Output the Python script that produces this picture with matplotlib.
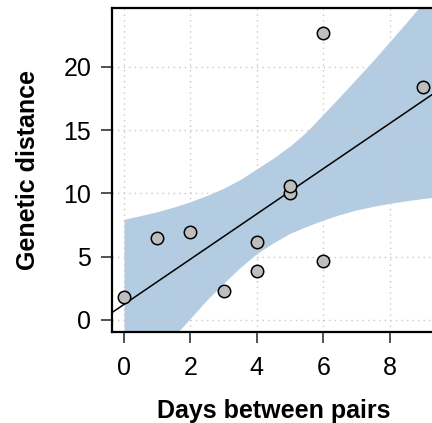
import numpy as np
import matplotlib
matplotlib.use("Agg")
import matplotlib.pyplot as plt

plt.rcParams["font.family"] = ["Liberation Sans", "DejaVu Sans"]

# Observed pairs
days = [0, 1, 2, 3, 4, 4, 5, 5, 6, 6, 9]
genetic_dist = [1.84, 6.5, 6.93, 2.27, 6.17, 3.85, 10.01, 10.59, 22.69, 4.69, 18.44]

# Confidence band edges along the day axis
band_x = [0, 0.5, 1, 1.5, 2, 2.5, 3, 3.5, 4, 4.5, 5, 5.5, 6, 6.5, 7, 7.5, 8, 8.5, 9, 9.5]
band_lo = [-5.8, -4.3, -2.8, -1.3, 0.13, 1.6, 2.9, 4.15, 5.25, 6.1, 6.85, 7.4,
           7.9, 8.33, 8.7, 8.98, 9.22, 9.42, 9.6, 9.75]
band_hi = [7.96, 8.25, 8.56, 8.93, 9.35, 9.85, 10.41, 11.1, 11.95, 12.8, 13.75, 14.88,
           16.26, 17.65, 19.07, 20.5, 22.0, 23.5, 25.05, 26.6]

x_ticks = [0, 2, 4, 6, 8]
y_ticks = [0, 5, 10, 15, 20]

fig = plt.figure(figsize=(4.32, 4.23), dpi=100)
ax = fig.add_axes([0.2593, 0.2151, 0.7472, 0.7660])

xlim = (-0.36, 9.36)
ylim = (-0.95, 24.66)

ax.fill_between(band_x, band_lo, band_hi, color="#b4cce1", linewidth=0, zorder=1)

for xt in x_ticks:
    ax.axvline(xt, color="#c8c8c8", linestyle=(0, (1, 3)), linewidth=1.0, zorder=2)
for yt in y_ticks:
    ax.axhline(yt, color="#c8c8c8", linestyle=(0, (1, 3)), linewidth=1.0, zorder=2)

# Least-squares fit through the points
slope, intercept = np.polyfit(days, genetic_dist, 1)
fit_x = np.array(xlim)
ax.plot(fit_x, intercept + slope * fit_x, color="black", linewidth=1.1, zorder=3)

ax.scatter(days, genetic_dist, s=80, facecolor="#bebebe", edgecolor="black",
           linewidth=1.1, zorder=4)

ax.set_xlim(*xlim)
ax.set_ylim(*ylim)
ax.set_xticks(x_ticks)
ax.set_yticks(y_ticks)
ax.tick_params(axis="both", direction="out", length=8, width=1.2, color="#333333",
               labelsize=18)
ax.tick_params(axis="x", pad=9)
ax.tick_params(axis="y", pad=7)
for sp in ax.spines.values():
    sp.set_linewidth(1.6)

ax.set_xlabel("Days between pairs", fontsize=18, fontweight="bold", labelpad=14)
ax.set_ylabel("Genetic distance", fontsize=18, fontweight="bold", labelpad=17)

fig.savefig("out.png", dpi=100)
